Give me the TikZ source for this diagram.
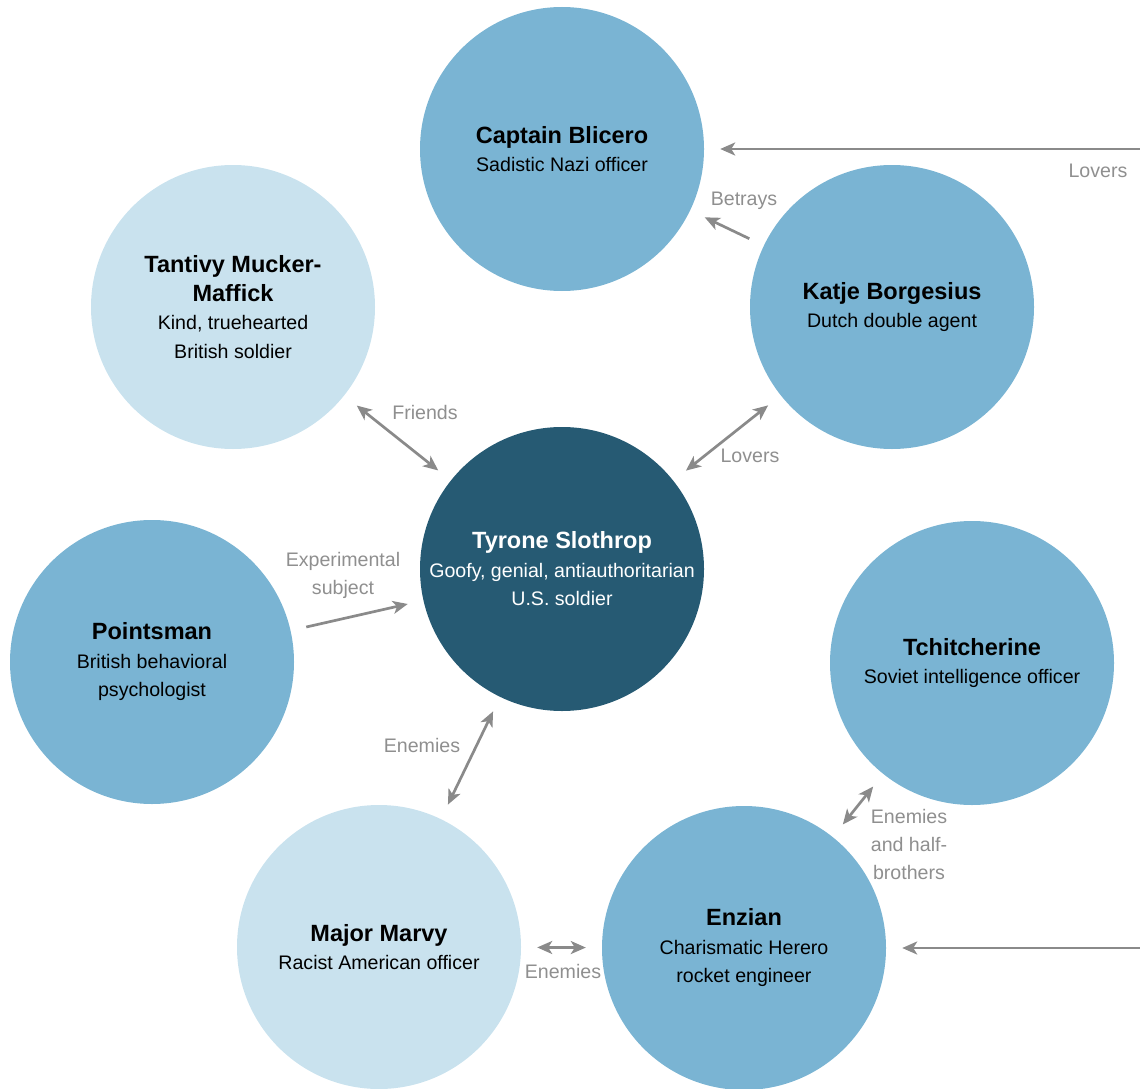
\documentclass[tikz,border=0pt]{standalone}
\usepackage{fontspec}
\setmainfont{Liberation Sans}
\usetikzlibrary{arrows.meta}
\definecolor{darkblue}{HTML}{265A73}
\definecolor{midblue}{HTML}{7AB4D3}
\definecolor{lightblue}{HTML}{C9E2EE}
\definecolor{arrowgray}{HTML}{8A8A8A}
\definecolor{labelgray}{HTML}{8F8F8F}
\newcommand{\ttl}[1]{{\fontsize{23.5}{28}\selectfont\bfseries #1}}
\begin{document}
\begin{tikzpicture}[x=1pt,y=-1pt,
  person/.style={circle, inner sep=0pt, minimum size=284pt, align=center,
    font=\fontsize{19.6}{28.5}\selectfont, text=black},
  mid/.style={person, fill=midblue},
  light/.style={person, fill=lightblue},
  dark/.style={person, fill=darkblue, text=white},
  arr/.style={draw=arrowgray, line width=2.7pt, shorten >=16pt, shorten <=16pt},
  >={Stealth[length=15pt,width=13pt,inset=4pt]},
  lbl/.style={text=labelgray, font=\fontsize{19.6}{28}\selectfont, align=center, inner sep=0pt}]
\useasboundingbox (0,0) rectangle (1140,1089);
\clip (0,0) rectangle (1140,1089);

\node[mid]   (blicero) at (562,149) {\ttl{Captain Blicero}\\Sadistic Nazi officer};
\node[light] (tantivy) at (233,307) {\ttl{Tantivy Mucker-}\\\ttl{Maffick}\\Kind, truehearted\\British soldier};
\node[mid]   (katje)   at (892,307) {\ttl{Katje Borgesius}\\Dutch double agent};
\node[dark]  (tyrone)  at (562,569) {\ttl{Tyrone Slothrop}\\Goofy, genial, antiauthoritarian\\U.S. soldier};
\node[mid]   (points)  at (152,662) {\ttl{Pointsman}\\British behavioral\\psychologist};
\node[mid]   (tchit)   at (972,663) {\ttl{Tchitcherine}\\Soviet intelligence officer};
\node[light] (marvy)   at (379,947) {\ttl{Major Marvy}\\Racist American officer};
\node[mid]   (enzian)  at (744,948) {\ttl{Enzian}\\Charismatic Herero\\rocket engineer};

\coordinate (lovR) at (1160,149);
\coordinate (enzR) at (1160,948);

\draw[arr,->] (lovR) -- (blicero);
\draw[arr,->] (katje) -- (blicero);
\draw[arr,<->] (tantivy) -- (tyrone);
\draw[arr,<->] (katje) -- (tyrone);
\draw[arr,->] (points) -- (tyrone);
\draw[arr,<->] (tyrone) -- (marvy);
\draw[arr,<->] (tchit) -- (enzian);
\draw[arr,<->] (marvy) -- (enzian);
\draw[arr,->] (enzR) -- (enzian);

\node[lbl] (l1) at (1098,171) {Lovers};
\node[lbl] (l2) at (744,201) {Betrays};
\node[lbl] (l3) at (425,412) {Friends};
\node[lbl] (l4) at (750,456) {Lovers};
\node[lbl] (l5) at (343,575) {Experimental\\subject};
\node[lbl] (l6) at (422,745) {Enemies};
\node[lbl] (l7) at (909,844) {Enemies\\and half-\\brothers};
\node[lbl] (l8) at (563,971) {Enemies};
\end{tikzpicture}
\end{document}
